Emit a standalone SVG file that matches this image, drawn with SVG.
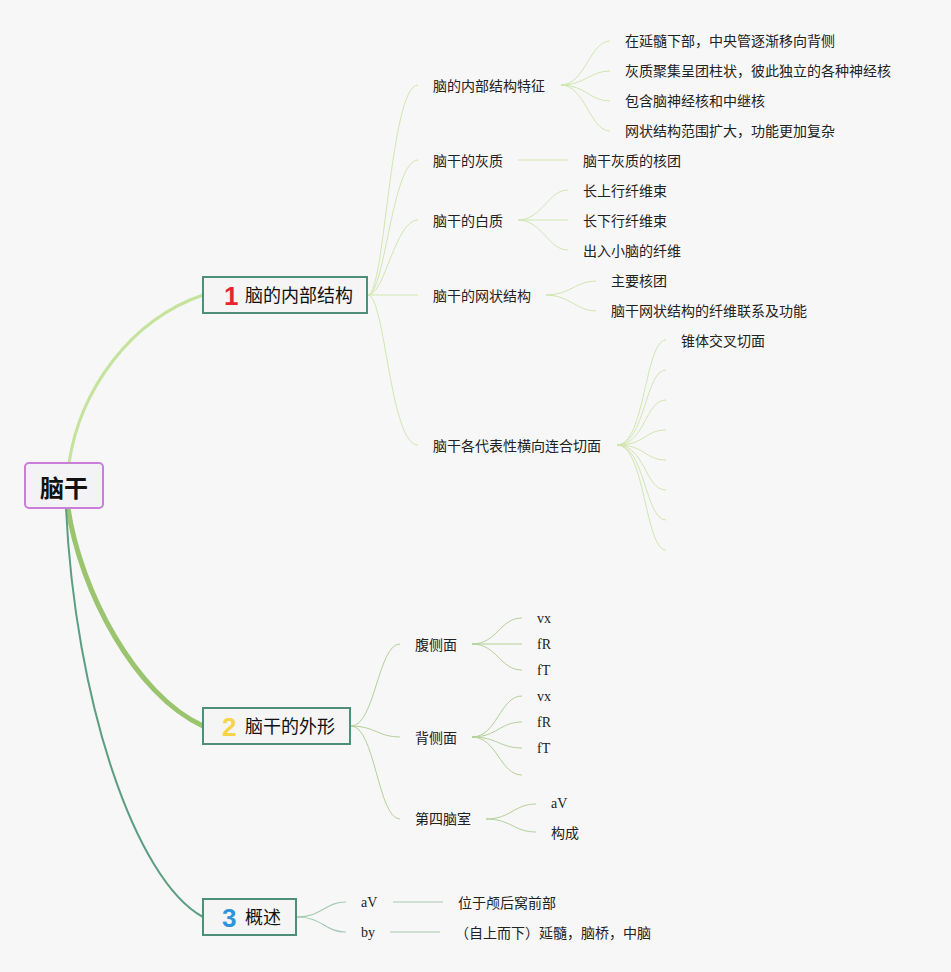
<svg xmlns="http://www.w3.org/2000/svg" width="951" height="972" viewBox="0 0 951 972">
<style>
.t{font-family:"Noto Sans CJK SC","Noto Sans",sans-serif;font-size:14px;fill:#222}
.s{font-family:"Liberation Serif",serif;font-size:14px;fill:#222}
.b{font-family:"Noto Sans CJK SC","Noto Sans",sans-serif;font-size:18px;fill:#111}
.num{font-family:"Liberation Sans","Noto Sans",sans-serif;font-size:26px;font-weight:bold}
.box{fill:#f5f5f5;stroke:#4e8f7c;stroke-width:2}
.c1{fill:none;stroke:#d0e6b0;stroke-width:1}
.c2{fill:none;stroke:#b2d197;stroke-width:1}
.c3{fill:none;stroke:#a5c9b0;stroke-width:1.2}
</style>
<rect width="951" height="972" fill="#f7f7f7"/>
<g id="connectors">
<path d="M69,463 C80,390 130,320 203,295" fill="none" stroke="#c5e39c" stroke-width="3"/>
<path d="M68,508 C80,590 135,695 203,726" fill="none" stroke="#9bc46e" stroke-width="5"/>
<path d="M66,508 C75,700 135,880 203,917" fill="none" stroke="#5d9e82" stroke-width="2"/>
<path class="c1" d="M368,295 C385,295 390,85 418,85"/>
<path class="c1" d="M368,295 C385,295 392,160 418,160"/>
<path class="c1" d="M368,295 C385,295 395,220 418,220"/>
<path class="c1" d="M368,295 L418,295"/>
<path class="c1" d="M368,295 C385,295 390,445 418,445"/>
<path class="c1" d="M561,85 C585,85 590,41 610,41"/>
<path class="c1" d="M561,85 C585,85 590,71 610,71"/>
<path class="c1" d="M561,85 C585,85 590,101 610,101"/>
<path class="c1" d="M561,85 C585,85 590,131 610,131"/>
<path class="c1" d="M518,160 L568,160"/>
<path class="c1" d="M518,220 C542,220 548,190 568,190"/>
<path class="c1" d="M518,220 L568,220"/>
<path class="c1" d="M518,220 C542,220 548,250 568,250"/>
<path class="c1" d="M546,295 C570,295 576,281 596,281"/>
<path class="c1" d="M546,295 C570,295 576,311 596,311"/>
<path class="c1" d="M617,445 C645,445 645,340 666,340"/>
<path class="c1" d="M617,445 C645,445 645,370 666,370"/>
<path class="c1" d="M617,445 C645,445 645,400 666,400"/>
<path class="c1" d="M617,445 C645,445 645,430 666,430"/>
<path class="c1" d="M617,445 C645,445 645,460 666,460"/>
<path class="c1" d="M617,445 C645,445 645,490 666,490"/>
<path class="c1" d="M617,445 C645,445 645,520 666,520"/>
<path class="c1" d="M617,445 C645,445 645,550 666,550"/>
<path class="c2" d="M351,726 C375,726 378,644 400,644"/>
<path class="c2" d="M351,726 C375,726 378,737 400,737"/>
<path class="c2" d="M351,726 C375,726 378,819 400,819"/>
<path class="c2" d="M472,644 C497,644 500,618 522,618"/>
<path class="c2" d="M472,644 L522,644"/>
<path class="c2" d="M472,644 C497,644 500,670 522,670"/>
<path class="c2" d="M472,737 C497,737 500,696 522,696"/>
<path class="c2" d="M472,737 C497,737 500,722 522,722"/>
<path class="c2" d="M472,737 C497,737 500,748 522,748"/>
<path class="c2" d="M472,737 C497,737 500,775 522,775"/>
<path class="c2" d="M486,819 C511,819 514,804 536,804"/>
<path class="c2" d="M486,819 C511,819 514,832 536,832"/>
<path class="c3" d="M297,917 C322,917 325,902 346,902"/>
<path class="c3" d="M297,917 C322,917 325,932 346,932"/>
<path class="c3" d="M393,902 L443,902"/>
<path class="c3" d="M390,932 L440,932"/>
</g>
<g id="root">
<rect x="25" y="463" width="78" height="45" rx="4" fill="#f3f3f5" stroke="#c97fd9" stroke-width="2"/>
<text x="64" y="497" text-anchor="middle" font-family="Noto Sans CJK SC, sans-serif" font-size="24" font-weight="bold" fill="#111">脑干</text>
</g>
<g id="b1">
<rect class="box" x="203" y="277" width="164" height="36"/>
<text class="num" x="224" y="305" fill="#e3262f">1</text>
<text class="b" x="245" y="302">脑的内部结构</text>
</g>
<g id="b2">
<rect class="box" x="203" y="708" width="147" height="36"/>
<text class="num" x="222" y="736" fill="#f6d446">2</text>
<text class="b" x="245" y="733">脑干的外形</text>
</g>
<g id="b3">
<rect class="box" x="203" y="899" width="93" height="36"/>
<text class="num" x="222" y="927" fill="#2d95dc">3</text>
<text class="b" x="245" y="924">概述</text>
</g>
<g id="n1-1"><text class="t" x="433" y="91">脑的内部结构特征</text></g>
<g id="n1-1-1"><text class="t" x="625" y="46">在延髓下部，中央管逐渐移向背侧</text></g>
<g id="n1-1-2"><text class="t" x="625" y="76">灰质聚集呈团柱状，彼此独立的各种神经核</text></g>
<g id="n1-1-3"><text class="t" x="625" y="106">包含脑神经核和中继核</text></g>
<g id="n1-1-4"><text class="t" x="625" y="136">网状结构范围扩大，功能更加复杂</text></g>
<g id="n1-2"><text class="t" x="433" y="166">脑干的灰质</text></g>
<g id="n1-2-1"><text class="t" x="583" y="166">脑干灰质的核团</text></g>
<g id="n1-3"><text class="t" x="433" y="226">脑干的白质</text></g>
<g id="n1-3-1"><text class="t" x="583" y="196">长上行纤维束</text></g>
<g id="n1-3-2"><text class="t" x="583" y="226">长下行纤维束</text></g>
<g id="n1-3-3"><text class="t" x="583" y="256">出入小脑的纤维</text></g>
<g id="n1-4"><text class="t" x="433" y="301">脑干的网状结构</text></g>
<g id="n1-4-1"><text class="t" x="611" y="286">主要核团</text></g>
<g id="n1-4-2"><text class="t" x="611" y="316">脑干网状结构的纤维联系及功能</text></g>
<g id="n1-5"><text class="t" x="433" y="451">脑干各代表性横向连合切面</text></g>
<g id="n1-5-1"><text class="t" x="681" y="346">锥体交叉切面</text></g>
<g id="n2-1"><text class="t" x="415" y="650">腹侧面</text></g>
<g id="n2-1-1"><text class="s" x="537" y="623">vx</text></g>
<g id="n2-1-2"><text class="s" x="537" y="649">fR</text></g>
<g id="n2-1-3"><text class="s" x="537" y="675">fT</text></g>
<g id="n2-2"><text class="t" x="415" y="743">背侧面</text></g>
<g id="n2-2-1"><text class="s" x="537" y="701">vx</text></g>
<g id="n2-2-2"><text class="s" x="537" y="727">fR</text></g>
<g id="n2-2-3"><text class="s" x="537" y="753">fT</text></g>
<g id="n2-3"><text class="t" x="415" y="824">第四脑室</text></g>
<g id="n2-3-1"><text class="s" x="551" y="808">aV</text></g>
<g id="n2-3-2"><text class="t" x="551" y="838">构成</text></g>
<g id="n3-1"><text class="s" x="361" y="907">aV</text></g>
<g id="n3-1-1"><text class="t" x="458" y="908">位于颅后窝前部</text></g>
<g id="n3-2"><text class="s" x="361" y="937">by</text></g>
<g id="n3-2-1"><text class="t" x="455" y="938">（自上而下）延髓，脑桥，中脑</text></g>
</svg>
